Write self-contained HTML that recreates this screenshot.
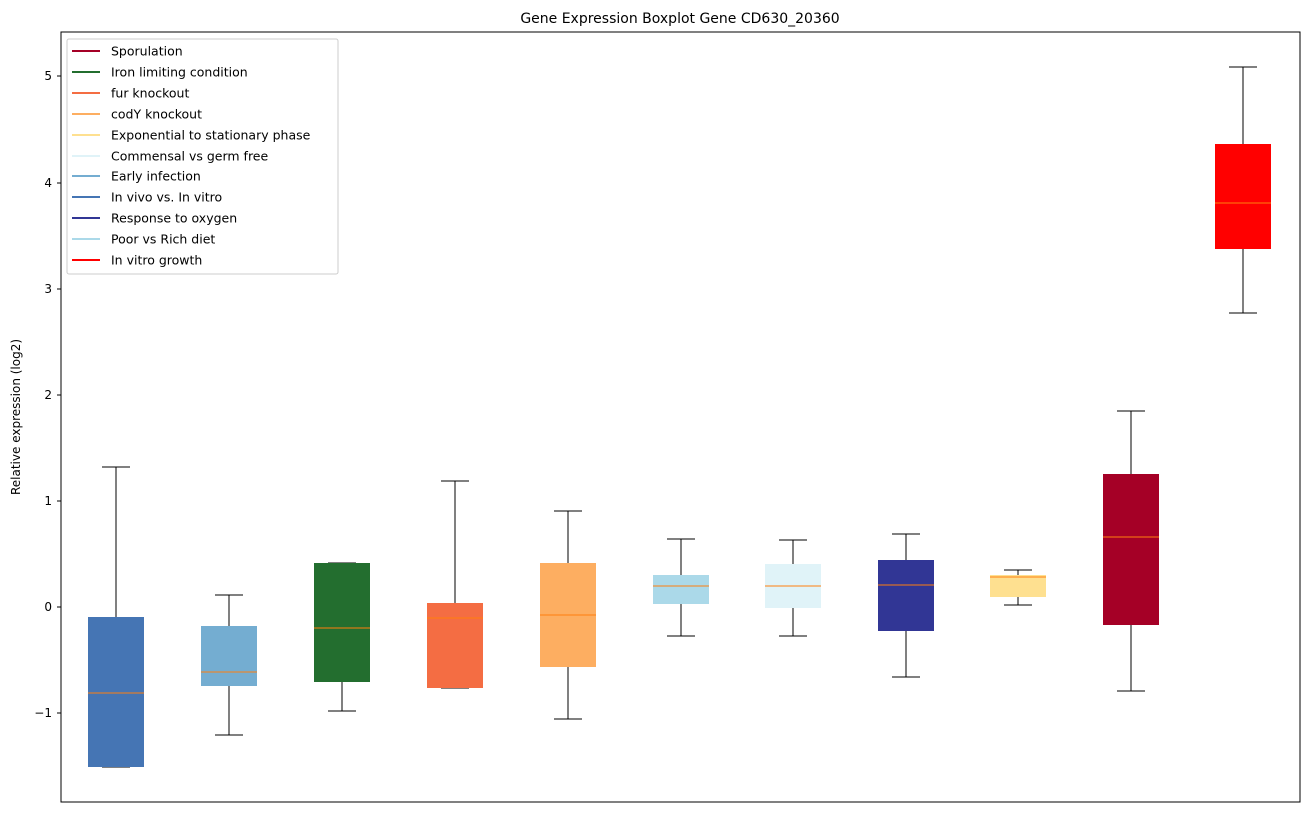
<!DOCTYPE html>
<html><head><meta charset="utf-8"><style>
body{margin:0;background:#fff;}
svg text{font-family:"DejaVu Sans","Liberation Sans",sans-serif;}
</style></head><body>
<svg width="1309" height="812" viewBox="0 0 1309 812" xmlns="http://www.w3.org/2000/svg">
<rect width="1309" height="812" fill="#fff"/>
<text x="680" y="23" font-size="14" text-anchor="middle">Gene Expression Boxplot Gene CD630_20360</text>
<g stroke="#000" stroke-width="1">
<line x1="116" y1="467" x2="116" y2="617"/><line x1="102" y1="467" x2="130" y2="467"/><line x1="102" y1="767" x2="130" y2="767"/>
<line x1="229" y1="595" x2="229" y2="626"/><line x1="229" y1="686" x2="229" y2="735"/><line x1="215" y1="595" x2="243" y2="595"/><line x1="215" y1="735" x2="243" y2="735"/>
<line x1="342" y1="682" x2="342" y2="711"/><line x1="328" y1="563" x2="356" y2="563"/><line x1="328" y1="711" x2="356" y2="711"/>
<line x1="455" y1="481" x2="455" y2="603"/><line x1="441" y1="481" x2="469" y2="481"/><line x1="441" y1="688" x2="469" y2="688"/>
<line x1="568" y1="511" x2="568" y2="563"/><line x1="568" y1="667" x2="568" y2="719"/><line x1="554" y1="511" x2="582" y2="511"/><line x1="554" y1="719" x2="582" y2="719"/>
<line x1="681" y1="539" x2="681" y2="575"/><line x1="681" y1="604" x2="681" y2="636"/><line x1="667" y1="539" x2="695" y2="539"/><line x1="667" y1="636" x2="695" y2="636"/>
<line x1="793" y1="540" x2="793" y2="564"/><line x1="793" y1="608" x2="793" y2="636"/><line x1="779" y1="540" x2="807" y2="540"/><line x1="779" y1="636" x2="807" y2="636"/>
<line x1="906" y1="534" x2="906" y2="560"/><line x1="906" y1="631" x2="906" y2="677"/><line x1="892" y1="534" x2="920" y2="534"/><line x1="892" y1="677" x2="920" y2="677"/>
<line x1="1018" y1="570" x2="1018" y2="575"/><line x1="1018" y1="597" x2="1018" y2="605"/><line x1="1004" y1="570" x2="1032" y2="570"/><line x1="1004" y1="605" x2="1032" y2="605"/>
<line x1="1131" y1="411" x2="1131" y2="474"/><line x1="1131" y1="625" x2="1131" y2="691"/><line x1="1117" y1="411" x2="1145" y2="411"/><line x1="1117" y1="691" x2="1145" y2="691"/>
<line x1="1243" y1="67" x2="1243" y2="144"/><line x1="1243" y1="249" x2="1243" y2="313"/><line x1="1229" y1="67" x2="1257" y2="67"/><line x1="1229" y1="313" x2="1257" y2="313"/>
</g>
<rect x="88" y="617" width="56" height="150" fill="#4575b4"/>
<rect x="201" y="626" width="56" height="60" fill="#74add1"/>
<rect x="314" y="563" width="56" height="119" fill="#236e2f"/>
<rect x="427" y="603" width="56" height="85" fill="#f46d43"/>
<rect x="540" y="563" width="56" height="104" fill="#fdae61"/>
<rect x="653" y="575" width="56" height="29" fill="#abd9e9"/>
<rect x="765" y="564" width="56" height="44" fill="#e0f3f8"/>
<rect x="878" y="560" width="56" height="71" fill="#313695"/>
<rect x="990" y="575" width="56" height="22" fill="#fee090"/>
<rect x="1103" y="474" width="56" height="151" fill="#a50026"/>
<rect x="1215" y="144" width="56" height="105" fill="#ff0000"/>
<g stroke="#ff7f0e" stroke-width="1">
<line x1="88" y1="693" x2="144" y2="693"/><line x1="201" y1="672" x2="257" y2="672"/><line x1="314" y1="628" x2="370" y2="628"/>
<line x1="427" y1="618" x2="483" y2="618"/><line x1="540" y1="615" x2="596" y2="615"/><line x1="653" y1="586" x2="709" y2="586"/>
<line x1="765" y1="586" x2="821" y2="586"/><line x1="878" y1="585" x2="934" y2="585"/><line x1="990" y1="577" x2="1046" y2="577"/>
<line x1="1103" y1="537" x2="1159" y2="537"/><line x1="1215" y1="203" x2="1271" y2="203"/>
</g>
<rect x="61" y="32" width="1239" height="770" fill="none" stroke="#000"/>
<g stroke="#000">
<line x1="57" y1="76" x2="61" y2="76"/><line x1="57" y1="183" x2="61" y2="183"/><line x1="57" y1="289" x2="61" y2="289"/>
<line x1="57" y1="395" x2="61" y2="395"/><line x1="57" y1="501" x2="61" y2="501"/><line x1="57" y1="607" x2="61" y2="607"/><line x1="57" y1="713" x2="61" y2="713"/>
</g>
<g font-size="12" text-anchor="end">
<text x="52" y="80">5</text><text x="52" y="187">4</text><text x="52" y="293">3</text><text x="52" y="399">2</text>
<text x="52" y="505">1</text><text x="52" y="611">0</text><text x="52" y="717">−1</text>
</g>
<text font-size="12" text-anchor="middle" transform="translate(20,417) rotate(-90)">Relative expression (log2)</text>
<rect x="67" y="39" width="271" height="235" fill="#fff" stroke="#ccc" rx="2"/>
<g stroke-width="2">
<line x1="72" y1="51" x2="100" y2="51" stroke="#a50026"/>
<line x1="72" y1="72" x2="100" y2="72" stroke="#236e2f"/>
<line x1="72" y1="93" x2="100" y2="93" stroke="#f46d43"/>
<line x1="72" y1="114" x2="100" y2="114" stroke="#fdae61"/>
<line x1="72" y1="135" x2="100" y2="135" stroke="#fee090"/>
<line x1="72" y1="156" x2="100" y2="156" stroke="#e0f3f8"/>
<line x1="72" y1="176" x2="100" y2="176" stroke="#74add1"/>
<line x1="72" y1="197" x2="100" y2="197" stroke="#4575b4"/>
<line x1="72" y1="218" x2="100" y2="218" stroke="#313695"/>
<line x1="72" y1="239" x2="100" y2="239" stroke="#abd9e9"/>
<line x1="72" y1="260" x2="100" y2="260" stroke="#ff0000"/>
</g>
<g font-size="12.5">
<text x="111" y="55.5">Sporulation</text>
<text x="111" y="76.5">Iron limiting condition</text>
<text x="111" y="97.5">fur knockout</text>
<text x="111" y="118.5">codY knockout</text>
<text x="111" y="139.5">Exponential to stationary phase</text>
<text x="111" y="160.5">Commensal vs germ free</text>
<text x="111" y="180.5">Early infection</text>
<text x="111" y="201.5">In vivo vs. In vitro</text>
<text x="111" y="222.5">Response to oxygen</text>
<text x="111" y="243.5">Poor vs Rich diet</text>
<text x="111" y="264.5">In vitro growth</text>
</g>
</svg>
</body></html>
